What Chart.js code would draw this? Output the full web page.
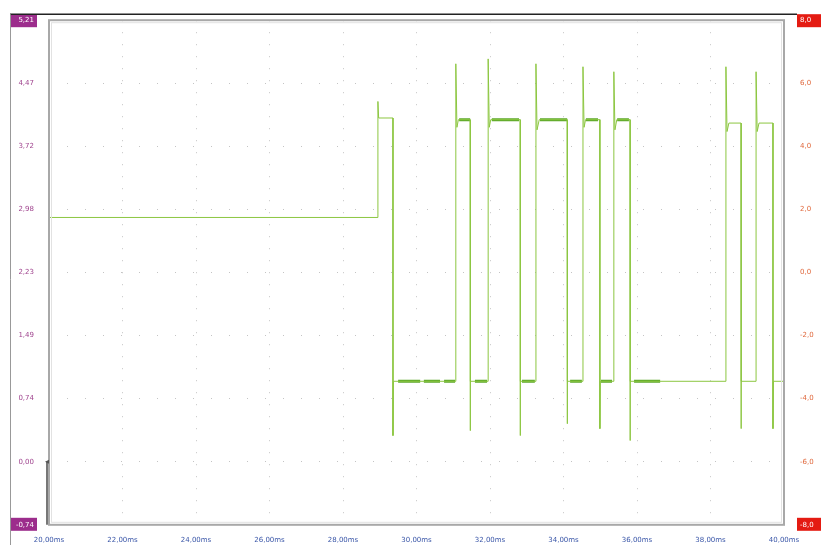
<!DOCTYPE html>
<html>
<head>
<meta charset="utf-8">
<script src="https://cdn.jsdelivr.net/npm/chart.js@4"></script>
<style>
  html, body { margin: 0; padding: 0; background: #fff; }
  canvas { display: block; }
</style>
</head>
<body>
<canvas id="chart" width="821" height="545"></canvas>
<script>
// trace: time in ms, voltage in V
const timeMs = [
    20.00, 28.95, 28.95, 28.97, 29.36, 29.36, 29.37, 31.07,
    31.07, 31.10, 31.14, 31.46, 31.46, 31.47, 31.95,
    31.95, 31.98, 32.02, 32.82, 32.82, 32.83, 33.25,
    33.25, 33.28, 33.34, 34.10, 34.10, 34.11, 34.53,
    34.53, 34.56, 34.60, 34.99, 34.99, 35.00, 35.37,
    35.37, 35.40, 35.45, 35.81, 35.81, 35.82, 38.42,
    38.42, 38.45, 38.50, 38.83, 38.83, 38.84, 39.24,
    39.24, 39.27, 39.32, 39.70, 39.70, 39.71, 40.00
];
const voltage = [
    2.885, 2.885, 4.255, 4.06, 4.06, 0.309, 0.95, 0.95,
    4.70, 3.95, 4.04, 4.04, 0.367, 0.95, 0.95,
    4.758, 3.95, 4.04, 4.04, 0.309, 0.95, 0.95,
    4.70, 3.92, 4.04, 4.04, 0.449, 0.95, 0.95,
    4.665, 3.95, 4.04, 4.04, 0.391, 0.95, 0.95,
    4.606, 3.92, 4.04, 4.04, 0.25, 0.95, 0.95,
    4.665, 3.90, 4.00, 4.00, 0.391, 0.95, 0.95,
    4.606, 3.90, 4.00, 4.00, 0.391, 0.95, 0.95
];

// stretches where the trace is drawn thick (noise on the level)
const noiseStart = [29.50, 30.20, 30.75, 31.59, 32.87, 34.18, 35.02, 35.92, 31.16, 32.05, 33.36, 34.61, 35.46];
const noiseEnd   = [30.10, 30.64, 31.05, 31.92, 33.22, 34.50, 35.32, 36.63, 31.46, 32.79, 34.10, 34.94, 35.78];
const noiseLevel = [0.95, 0.95, 0.95, 0.95, 0.95, 0.95, 0.95, 0.95, 4.04, 4.04, 4.04, 4.04, 4.04];

const xTicks = [20, 22, 24, 26, 28, 30, 32, 34, 36, 38, 40];
const xTickLabels = ["20,00ms", "22,00ms", "24,00ms", "26,00ms", "28,00ms", "30,00ms",
                     "32,00ms", "34,00ms", "36,00ms", "38,00ms", "40,00ms"];
const leftTicks = [-0.745, 0, 0.745, 1.49, 2.235, 2.98, 3.725, 4.47, 5.215];
const leftTickLabels = ["-0,74", "0,00", "0,74", "1,49", "2,23", "2,98", "3,72", "4,47", "5,21"];
const rightTicks = [-8, -6, -4, -2, 0, 2, 4, 6, 8];
const rightTickLabels = ["-8,0", "-6,0", "-4,0", "-2,0", "0,0", "2,0", "4,0", "6,0", "8,0"];

const trace = timeMs.map((t, i) => ({ x: t, y: voltage[i] }));
const noise = [];
noiseStart.forEach((t, i) => {
    noise.push({ x: t, y: noiseLevel[i] });
    noise.push({ x: noiseEnd[i], y: noiseLevel[i] });
    noise.push({ x: noiseEnd[i], y: null });
});
noise.sort((a, b) => a.x - b.x || (a.y === null) - (b.y === null));

const font = { family: "DejaVu Sans", size: 7 };

// frame, coloured end boxes and ground marker
const scopeFrame = {
    id: "scopeFrame",
    beforeDraw(chart) {
        const { ctx, chartArea: a } = chart;
        ctx.save();
        ctx.fillStyle = "#fff";
        ctx.fillRect(0, 0, chart.width, chart.height);
        ctx.fillStyle = "#9c2d8c";
        ctx.fillRect(10, a.top - 6, a.left - 22, 13);
        ctx.fillRect(10, a.bottom - 7, a.left - 22, 13);
        ctx.fillStyle = "#e41b12";
        ctx.fillRect(a.right + 13, a.top - 6, chart.width - a.right - 13, 13);
        ctx.fillRect(a.right + 13, a.bottom - 7, chart.width - a.right - 13, 13);
        ctx.strokeStyle = "#222";
        ctx.lineWidth = 1.5;
        ctx.beginPath();
        ctx.moveTo(10, a.top - 6);
        ctx.lineTo(a.right + 13, a.top - 6);
        ctx.stroke();
        ctx.strokeStyle = "#999";
        ctx.lineWidth = 1;
        ctx.beginPath();
        ctx.moveTo(10.5, a.top - 6);
        ctx.lineTo(10.5, chart.height);
        ctx.stroke();
        ctx.restore();
    },
    afterDraw(chart) {
        const { ctx, chartArea: a, scales } = chart;
        ctx.save();
        ctx.strokeStyle = "#a8a8a8";
        ctx.lineWidth = 2;
        ctx.strokeRect(a.left, a.top, a.right - a.left, a.bottom - a.top);
        ctx.strokeStyle = "#e2e2e2";
        ctx.lineWidth = 1;
        ctx.strokeRect(a.left + 2.5, a.top + 2.5, a.right - a.left - 5, a.bottom - a.top - 5);
        const y0 = scales.y.getPixelForValue(0);
        ctx.strokeStyle = "#777";
        ctx.lineWidth = 2;
        ctx.beginPath();
        ctx.moveTo(a.left - 2, y0);
        ctx.lineTo(a.left - 2, a.bottom);
        ctx.stroke();
        ctx.fillStyle = "#555";
        ctx.beginPath();
        ctx.moveTo(a.left - 4, y0);
        ctx.lineTo(a.left, y0 - 2);
        ctx.lineTo(a.left, y0 + 2);
        ctx.closePath();
        ctx.fill();
        ctx.restore();
    }
};

const grid = {
    color: "#c4c4c4",
    lineWidth: 1,
    drawTicks: false
};

new Chart(document.getElementById("chart").getContext("2d"), {
    type: "line",
    data: {
        datasets: [
            {
                label: "trace",
                data: trace,
                borderColor: "#8cc640",
                borderWidth: 1,
                pointRadius: 0,
                tension: 0,
                yAxisID: "y"
            },
            {
                label: "noise",
                data: noise,
                borderColor: "#5ca82a",
                borderWidth: 3,
                pointRadius: 0,
                tension: 0,
                spanGaps: false,
                yAxisID: "y"
            }
        ]
    },
    options: {
        responsive: false,
        animation: false,
        layout: { padding: { top: 18, left: 0, right: 0, bottom: 0 } },
        plugins: {
            legend: { display: false },
            tooltip: { enabled: false }
        },
        scales: {
            x: {
                type: "linear",
                min: 20,
                max: 40,
                grid: grid,
                border: { display: false, dash: [1, 11] },
                afterBuildTicks: scale => { scale.ticks = xTicks.map(v => ({ value: v })); },
                afterFit: scale => { scale.height = 18; },
                ticks: {
                    color: "#3a56a8",
                    font: font,
                    padding: 11,
                    maxRotation: 0,
                    autoSkip: false,
                    callback: (v, i) => xTickLabels[i]
                }
            },
            y: {
                position: "left",
                min: -0.745,
                max: 5.215,
                grid: grid,
                border: { display: false, dash: [1, 17] },
                afterBuildTicks: scale => { scale.ticks = leftTicks.map(v => ({ value: v })); },
                afterFit: scale => { scale.width = 49; },
                ticks: {
                    font: font,
                    padding: 15,
                    autoSkip: false,
                    color: c => (c.index === 0 || c.index === leftTicks.length - 1) ? "#fff" : "#a0458f",
                    callback: (v, i) => leftTickLabels[i]
                }
            },
            y2: {
                position: "right",
                min: -8,
                max: 8,
                grid: { display: false, drawTicks: false },
                border: { display: false },
                afterBuildTicks: scale => { scale.ticks = rightTicks.map(v => ({ value: v })); },
                afterFit: scale => { scale.width = 37; },
                ticks: {
                    font: font,
                    padding: 16,
                    autoSkip: false,
                    color: c => (c.index === 0 || c.index === rightTicks.length - 1) ? "#fff" : "#e0683c",
                    callback: (v, i) => rightTickLabels[i]
                }
            }
        }
    },
    plugins: [scopeFrame]
});
</script>
</body>
</html>
